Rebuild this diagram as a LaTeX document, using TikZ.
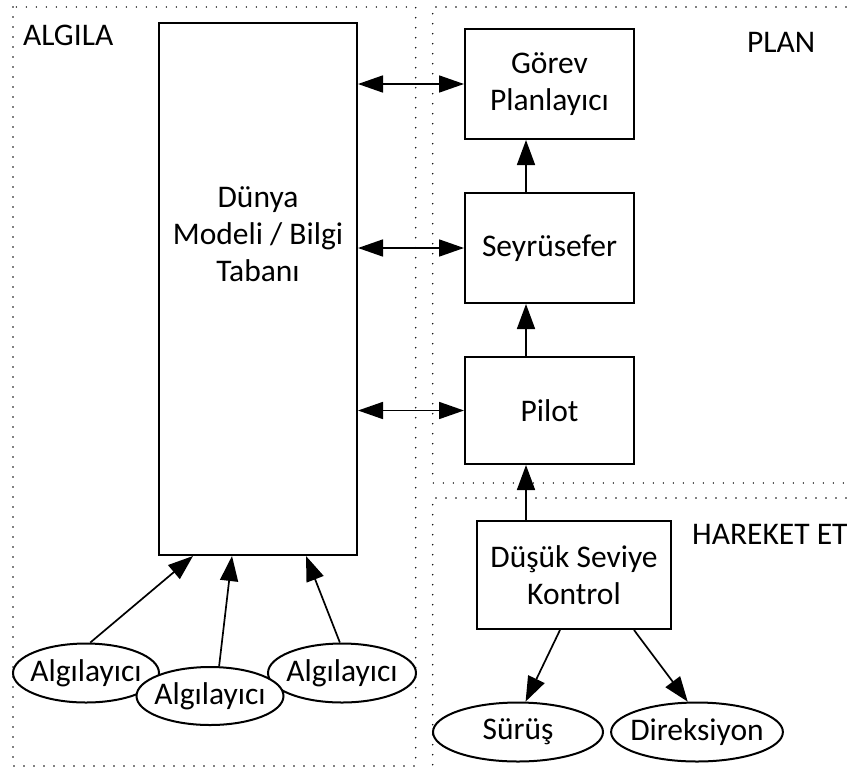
\documentclass[tikz,border=0pt]{standalone}
\usepackage{fontspec}
\setmainfont{Carlito}
\usetikzlibrary{arrows.meta,shapes.geometric}
\begin{document}
\begin{tikzpicture}[x=1pt,y=-1pt,
  every node/.style={font=\fontsize{31.5}{37}\selectfont, align=center, inner sep=0pt},
  box/.style={draw, line width=2pt, fill=white},
  oval/.style={ellipse, draw, line width=2pt, fill=white, inner xsep=-6pt},
  zone/.style={line width=1.6pt, line cap=round, dash pattern=on 0pt off 10pt},
  link/.style={line width=1.7pt, -{Triangle[length=25pt,width=18pt]}},
  bilink/.style={line width=1.7pt, {Triangle[length=25pt,width=17pt]}-{Triangle[length=25pt,width=17pt]}},
]
\useasboundingbox (0,0) rectangle (848,774);

% dotted zones
\draw[zone] (13,7) rectangle (415.7,766);
\draw[zone] (846,7) -- (432.7,7) -- (432.7,483) -- (846,483);
\draw[zone] (846,498) -- (432.7,498) -- (432.7,772);

% zone titles
\node[anchor=base west] (algila) at (23,45) {ALGILA};
\node[anchor=base west] (plan) at (747,52) {PLAN};
\node[anchor=base west] (hareket) at (692,544) {HAREKET ET};

% world model
\node[box, minimum width=198pt, minimum height=532pt] (world) at (258,289) {};
\node (worldtext) at (258,234) {Dünya\\Modeli / Bilgi\\Tabanı};

% planning stack
\node[box, minimum width=169pt, minimum height=110pt] (gorev) at (549.5,84) {Görev\\Planlayıcı};
\node[box, minimum width=169pt, minimum height=110pt] (seyr) at (549.5,248) {Seyrüsefer};
\node[box, minimum width=169pt, minimum height=107pt] (pilot) at (549.5,410.5) {Pilot};
\node[box, minimum width=194pt, minimum height=108pt] (kontrol) at (574,575) {Düşük Seviye\\Kontrol};

% actuators
\node[oval, minimum width=170pt, minimum height=59pt] (surus) at (518,732) {Sürüş};
\node[oval, minimum width=169pt, minimum height=59pt] (direk) at (697,732) {Direksiyon};

% sensors
\node[oval, minimum width=146pt, minimum height=59pt] (s1) at (86,673) {Algılayıcı};
\node[oval, minimum width=148pt, minimum height=59pt] (s3) at (342,673) {Algılayıcı};
\node[oval, minimum width=147pt, minimum height=58pt] (s2) at (210,696) {Algılayıcı};

% connectors
\coordinate (spine) at (526,0);
\draw[bilink] (world.east |- gorev.west) -- (gorev.west);
\draw[bilink] (world.east |- seyr.west) -- (seyr.west);
\draw[bilink] (world.east |- pilot.west) -- (pilot.west);
\draw[link] (seyr.north -| spine) -- (gorev.south -| spine);
\draw[link] (pilot.north -| spine) -- (seyr.south -| spine);
\draw[link] (kontrol.north -| spine) -- (pilot.south -| spine);
\draw[link] ([xshift=-14pt]kontrol.south) -- (surus.76);
\draw[link] ([xshift=60pt]kontrol.south) -- (direk.107);
\draw[link] (s1.82) -- ([xshift=-65pt]world.south);
\draw[link] (s2.73) -- ([xshift=-26pt]world.south);
\draw[link] (s3.94) -- ([xshift=48pt]world.south);
\end{tikzpicture}
\end{document}
